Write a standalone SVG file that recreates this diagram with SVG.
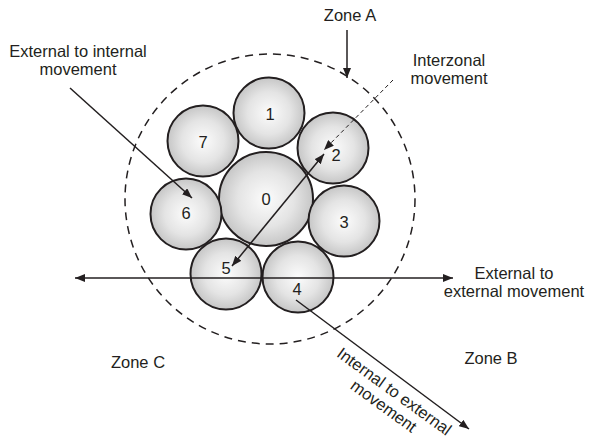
<svg xmlns="http://www.w3.org/2000/svg" width="603" height="437" viewBox="0 0 603 437">
  <style>
    .zone-label { font-family: "Liberation Sans", Arial, sans-serif; font-size: 16.5px; fill: #231f20; text-anchor: middle; }
    .num { font-family: "Liberation Sans", Arial, sans-serif; font-size: 16.5px; fill: #231f20; text-anchor: middle; }
    .cell { fill: url(#cellFill); stroke: #231f20; stroke-width: 2; }
    .boundary { fill: none; stroke: #231f20; stroke-width: 1.5; stroke-dasharray: 8 6; }
    .flow { fill: none; stroke: #231f20; stroke-width: 1.5; }
    .flow-dashed { fill: none; stroke: #231f20; stroke-width: 1; stroke-dasharray: 4 3; }
  </style>
  <defs>
    <radialGradient id="cellFill" cx="50%" cy="50%" r="50%">
      <stop offset="0" stop-color="#fcfcfc"/>
      <stop offset="0.6" stop-color="#e4e4e4"/>
      <stop offset="1" stop-color="#c6c6c6"/>
    </radialGradient>
    <marker id="head" viewBox="0 0 10 8" refX="10" refY="4" markerWidth="10" markerHeight="8" markerUnits="userSpaceOnUse" orient="auto-start-reverse">
      <path d="M0,0 L10,4 L0,8 Z" fill="#231f20"/>
    </marker>
  </defs>

  <rect width="603" height="437" fill="#ffffff"/>

  <!-- study area boundary (Zone A) -->
  <circle id="zone-a-boundary" class="boundary" cx="270" cy="199" r="145"/>

  <!-- traffic zones -->
  <g id="zone-0"><circle class="cell" cx="266" cy="199" r="47"/><text class="num" x="266" y="205">0</text></g>
  <g id="zone-1"><circle class="cell" cx="269" cy="113" r="35.5"/><text class="num" x="270" y="120">1</text></g>
  <g id="zone-2"><circle class="cell" cx="333" cy="148" r="35.5"/><text class="num" x="336" y="161">2</text></g>
  <g id="zone-3"><circle class="cell" cx="344" cy="221" r="35.5"/><text class="num" x="344" y="228">3</text></g>
  <g id="zone-4"><circle class="cell" cx="298" cy="277" r="35.5"/><text class="num" x="297" y="295">4</text></g>
  <g id="zone-5"><circle class="cell" cx="226" cy="274" r="35.5"/><text class="num" x="226" y="274">5</text></g>
  <g id="zone-6"><circle class="cell" cx="186" cy="214" r="35.5"/><text class="num" x="186" y="219">6</text></g>
  <g id="zone-7"><circle class="cell" cx="203" cy="141" r="35.5"/><text class="num" x="203" y="148">7</text></g>

  <!-- movements -->
  <g id="connectors">
    <line class="flow" x1="347" y1="30" x2="347" y2="78" marker-end="url(#head)"/>
    <line class="flow" x1="70" y1="88" x2="192" y2="198" marker-end="url(#head)"/>
    <line class="flow-dashed" x1="393" y1="80" x2="324" y2="150" marker-end="url(#head)"/>
    <line class="flow" x1="232" y1="266" x2="324" y2="154" marker-start="url(#head)" marker-end="url(#head)"/>
    <line class="flow" x1="75" y1="278" x2="453" y2="278" marker-start="url(#head)" marker-end="url(#head)"/>
    <line class="flow" x1="296" y1="300" x2="469" y2="429" marker-end="url(#head)"/>
  </g>

  <!-- labels -->
  <g id="labels">
    <text class="zone-label" x="350" y="21">Zone A</text>
    <text class="zone-label" x="138" y="368">Zone C</text>
    <text class="zone-label" x="491" y="364">Zone B</text>
    <text class="zone-label" x="78" y="57">External to internal</text>
    <text class="zone-label" x="78" y="75">movement</text>
    <text class="zone-label" x="449" y="66">Interzonal</text>
    <text class="zone-label" x="449" y="84">movement</text>
    <text class="zone-label" x="514" y="279">External to</text>
    <text class="zone-label" x="514" y="297">external movement</text>
    <g transform="translate(391,396) rotate(36)">
      <text class="zone-label" x="0" y="0">Internal to external</text>
      <text class="zone-label" x="0" y="18">movement</text>
    </g>
  </g>
</svg>
